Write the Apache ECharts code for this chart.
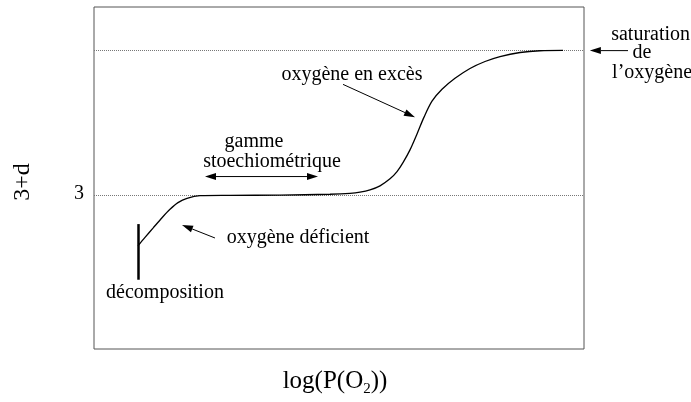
<!DOCTYPE html>
<html>
<head>
<meta charset="utf-8">
<script src="https://cdn.jsdelivr.net/npm/echarts@6/dist/echarts.min.js"></script>
<style>
  html, body { margin: 0; padding: 0; background: #fff; }
  #chart { width: 691px; height: 402px; }
</style>
</head>
<body>
<div id="chart"></div>
<script>
// Non-stoichiometry 3+d versus log(P(O2)) — schematic curve
const logPO2 = [8.98, 10.41, 12.04, 13.88, 15.51, 17.14, 18.98, 21.63, 27.76, 37.96, 48.16,
                52.24, 54.29, 56.33, 58.37, 60.41, 61.84, 63.06, 64.49, 65.92, 67.35, 68.98, 71.02,
                73.67, 76.73, 79.80, 82.86, 86.94, 91.02, 95.71];
const threePlusD = [2.826, 2.855, 2.887, 2.923, 2.952, 2.975, 2.990, 2.999, 3.000, 3.001, 3.004,
                    3.007, 3.011, 3.019, 3.033, 3.057, 3.082, 3.113, 3.157, 3.212, 3.270, 3.325, 3.366,
                    3.404, 3.438, 3.462, 3.479, 3.493, 3.499, 3.500];
const yTickValues = [3];
const stoichLevel = 3;
const saturationLevel = 3.5;
const decompositionX = 8.98;
const decompositionRange = [2.709, 2.901];

// annotation texts, anchored in data space (centre of text)
const annotations = [
  { text: 'gamme', at: [32.65, 3.185] },
  { text: 'stoechiométrique', at: [36.33, 3.116] },
  { text: 'oxygène en excès', at: [52.65, 3.417] },
  { text: 'oxygène déficient', at: [41.63, 2.853] },
  { text: 'décomposition', at: [14.49, 2.665] },
  { text: 'saturation', at: [113.6, 3.554] },
  { text: 'de', at: [111.8, 3.493] },
  { text: 'l\u2019oxygène', at: [113.9, 3.424] }
];
// arrows in data space; "both" puts a head at each end
const arrows = [
  { from: [22.65, 3.065], to: [45.71, 3.065], both: true },
  { from: [24.69, 2.853], to: [17.96, 2.898] },
  { from: [50.82, 3.383], to: [65.51, 3.270] },
  { from: [108.98, 3.4995], to: [101.2, 3.4995] }
];

const FONT = "'Liberation Serif', 'DejaVu Serif', serif";
const chart = echarts.init(document.getElementById('chart'), null, { renderer: 'canvas' });

chart.setOption({
  animation: false,
  backgroundColor: '#fff',
  grid: { left: 94, top: 7, width: 490, height: 345, show: true, borderColor: '#555', borderWidth: 1, backgroundColor: 'transparent' },
  xAxis: {
    type: 'value', min: 0, max: 100,
    axisLine: { show: false }, axisTick: { show: false }, axisLabel: { show: false }, splitLine: { show: false },
    name: 'log(P(O{s|2}))',
    nameLocation: 'middle', nameGap: 16,
    nameTextStyle: {
      fontFamily: FONT, fontSize: 25, color: '#000', lineHeight: 32, verticalAlign: 'top', padding: [0, 8, 0, 0],
      rich: { s: { fontFamily: FONT, fontSize: 15, lineHeight: 15, verticalAlign: 'bottom', color: '#000' } }
    }
  },
  yAxis: {
    type: 'value', min: 2.47, max: 3.65,
    axisLine: { show: false }, axisTick: { show: false }, splitLine: { show: false },
    axisLabel: { customValues: yTickValues, fontFamily: FONT, fontSize: 20, color: '#000', margin: 10,
                 verticalAlign: 'bottom', lineHeight: 4 },
    name: '3+d', nameLocation: 'middle', nameRotate: 90, nameGap: 59,
    nameTextStyle: { fontFamily: FONT, fontSize: 24, color: '#000', padding: [0, 8, 0, 0] }
  },
  series: [{
    type: 'line',
    data: logPO2.map((x, i) => [x, threePlusD[i]]),
    smooth: 0.3,
    showSymbol: false,
    lineStyle: { color: '#000', width: 1.3 },
    z: 5,
    markLine: {
      silent: true, symbol: 'none', animation: false,
      label: { show: false },
      data: [
        { yAxis: stoichLevel, lineStyle: { type: [1, 1], color: '#777', width: 1 } },
        { yAxis: saturationLevel, lineStyle: { type: [1, 1], color: '#777', width: 1 } },
        [ { coord: [decompositionX, decompositionRange[0]], lineStyle: { type: 'solid', color: '#000', width: 2.5 } },
          { coord: [decompositionX, decompositionRange[1]] } ]
      ]
    }
  }]
});

function px(p) { return chart.convertToPixel({ gridIndex: 0 }, p); }

function head(tip, ux, uy) {
  const headL = 11, headW = 3.5;
  const bx = tip[0] - ux * headL, by = tip[1] - uy * headL;
  return {
    base: [bx, by],
    shape: { type: 'polygon', shape: { points: [[tip[0], tip[1]], [bx - uy * headW, by + ux * headW], [bx + uy * headW, by - ux * headW]] }, style: { fill: '#000' } }
  };
}

function arrowGraphics(a) {
  const p0 = px(a.from), p1 = px(a.to);
  const dx = p1[0] - p0[0], dy = p1[1] - p0[1];
  const len = Math.hypot(dx, dy), ux = dx / len, uy = dy / len;
  const out = [];
  const hEnd = head(p1, ux, uy);
  out.push(hEnd.shape);
  let start = p0;
  if (a.both) {
    const hStart = head(p0, -ux, -uy);
    out.push(hStart.shape);
    start = hStart.base;
  }
  out.push({ type: 'line', shape: { x1: start[0], y1: start[1], x2: hEnd.base[0], y2: hEnd.base[1] }, style: { stroke: '#000', lineWidth: 1 } });
  return out;
}

const graphics = [];
arrows.forEach(a => graphics.push(...arrowGraphics(a)));
annotations.forEach(t => {
  const p = px(t.at);
  graphics.push({ type: 'text', x: p[0], y: p[1], style: { text: t.text, font: '20px ' + FONT, fill: '#000', align: 'center', verticalAlign: 'middle' } });
});
chart.setOption({ graphic: graphics });
</script>
</body>
</html>
